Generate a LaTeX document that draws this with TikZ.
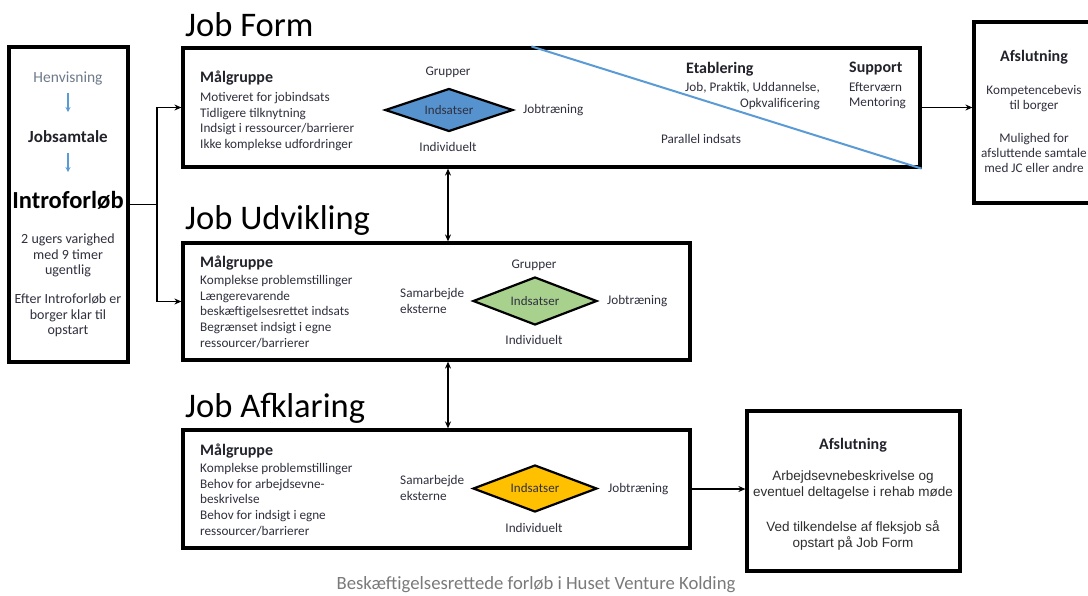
\documentclass[tikz,border=0pt]{standalone}
\usepackage{fontspec}
\setmainfont{Carlito}
\newfontfamily\arialf{Liberation Sans}
\usetikzlibrary{shapes.geometric,arrows.meta}
\definecolor{txt}{HTML}{30303F}
\definecolor{headc}{HTML}{22222B}
\definecolor{henvc}{HTML}{6E7A8A}
\definecolor{diablue}{HTML}{5592CE}
\definecolor{diagreen}{HTML}{A9D18E}
\definecolor{diayellow}{HTML}{FFC000}
\definecolor{lineblue}{HTML}{5B9BD5}
\definecolor{capc}{HTML}{7A7A7A}
\definecolor{arialc}{HTML}{2E2E2E}
\begin{document}
\begin{tikzpicture}[x=1pt,y=-1pt,
  box/.style={draw=black, line width=3.2pt, inner sep=0pt, fill=white},
  conn/.style={line width=1.6pt, -{Stealth[length=7pt,width=6pt]}},
  plainconn/.style={line width=1.6pt},
  dbl/.style={line width=1.6pt, {Stealth[length=7pt,width=6pt]}-{Stealth[length=7pt,width=6pt]}},
  bluearr/.style={draw=lineblue, line width=1.3pt, -{Stealth[length=5pt,width=5pt]}},
  dia/.style={diamond, draw=black, line width=2.2pt, aspect=2.7, inner sep=0pt, text=txt, font=\fontsize{13}{15}\selectfont},
  body/.style={inner sep=0pt, text=txt, font=\fontsize{13.2}{15.7}\selectfont, align=left, anchor=north west},
  head/.style={inner sep=0pt, text=headc, font=\bfseries\fontsize{16}{19}\selectfont},
  lab/.style={inner sep=0pt, text=txt, font=\fontsize{13.2}{15.7}\selectfont},
  ctr/.style={inner sep=0pt, text=txt, align=center, anchor=north},
  title/.style={inner sep=0pt, text=black, font=\fontsize{34.5}{40}\selectfont, anchor=base west}
]
\clip (0,0) rectangle (1088,595);
\fill[white] (0,0) rectangle (1088,595);

% boxes
\node[box, minimum width=119pt, minimum height=315pt] (lbox) at (68.5,204.5) {};
\node[box, minimum width=737pt, minimum height=119pt] (jf) at (551.5,107.5) {};
\node[box, minimum width=507pt, minimum height=117pt] (ju) at (436.5,301.5) {};
\node[box, minimum width=507pt, minimum height=118pt] (ja) at (436.5,489) {};
\node[box, minimum width=140pt, minimum height=181pt] (af1) at (1044,112.5) {};
\node[box, minimum width=213pt, minimum height=160pt] (af2) at (853.5,491) {};

% blue diagonal
\draw[lineblue, line width=2pt] (jf.north west) ++(350,0) -- (jf.south east);

% titles
\node[title] (t1) at (185,36) {Job Form};
\node[title] (t2) at (185,229) {Job Udvikling};
\node[title] (t3) at (185,417) {Job Afklaring};

% left box
\node[lab, text=henvc, font=\fontsize{15.5}{18}\selectfont] (henv) at (68,78) {Henvisning};
\node[lab, text=headc, font=\bfseries\fontsize{17}{18}\selectfont] (jobs) at (68,137) {Jobsamtale};
\node[lab, text=black, font=\bfseries\fontsize{24.5}{30}\selectfont] (intro) at (68,200) {Introforløb};
\node[ctr, font=\fontsize{14}{15.3}\selectfont] (ug) at (68,234) {2 ugers varighed\\med 9 timer\\ugentlig};
\node[ctr, font=\fontsize{14}{15.3}\selectfont] (ef) at (68,294) {Efter Introforløb er\\borger klar til\\opstart};
\draw[bluearr, shorten <=15pt, shorten >=25pt] (henv.center) -- (jobs.center);
\draw[bluearr, shorten <=16pt, shorten >=28pt] (jobs.center) -- (intro.center);

% Job Form content
\node[head, anchor=west] (mg1) at (200,78) {Målgruppe};
\node[body] (mg1t) at (200,92) {Motiveret for jobindsats\\Tidligere tilknytning\\Indsigt i ressourcer/barrierer\\Ikke komplekse udfordringer};
\node[dia, fill=diablue, minimum width=128pt, minimum height=43pt] (d1) at (449,110) {Indsatser};
\node[lab] (gr1) at (448,72) {Grupper};
\node[lab] (in1) at (448,147) {Individuelt};
\node[lab, anchor=west] (jt1) at (523,110) {Jobtræning};
\node[head, anchor=west] (et) at (686,69) {Etablering};
\node[body, anchor=north east, align=right] (ett) at (820,82) {Job, Praktik, Uddannelse,\\Opkvalificering};
\node[head, anchor=west] (sp) at (849,69) {Support};
\node[body] (spt) at (849,82) {Efterværn\\Mentoring};
\node[lab] (par) at (701,139) {Parallel indsats};

% Job Udvikling content
\node[head, anchor=west] (mg2) at (200,263) {Målgruppe};
\node[body] (mg2t) at (200,275) {Komplekse problemstillinger\\Længerevarende\\beskæftigelsesrettet indsats\\Begrænset indsigt i egne\\ressourcer/barrierer};
\node[dia, fill=diagreen, minimum width=124pt, minimum height=48pt] (d2) at (535,301) {Indsatser};
\node[lab] (gr2) at (534,265) {Grupper};
\node[lab] (in2) at (534,340) {Individuelt};
\node[body] (sa2) at (400,288) {Samarbejde\\eksterne};
\node[lab, anchor=west] (jt2) at (607,301) {Jobtræning};

% Job Afklaring content
\node[head, anchor=west] (mg3) at (200,451) {Målgruppe};
\node[body] (mg3t) at (200,463) {Komplekse problemstillinger\\Behov for arbejdsevne-\\beskrivelse\\Behov for indsigt i egne\\ressourcer/barrierer};
\node[dia, fill=diayellow, minimum width=124pt, minimum height=47pt] (d3) at (535,488.5) {Indsatser};
\node[body] (sa3) at (400,475) {Samarbejde\\eksterne};
\node[lab, anchor=west] (jt3) at (608,489) {Jobtræning};
\node[lab] (in3) at (534,528) {Individuelt};

% top Afslutning
\node[head] (afh1) at (1034,57) {Afslutning};
\node[ctr, font=\fontsize{13.2}{15.5}\selectfont] (af1a) at (1034,85) {Kompetencebevis\\til borger};
\node[ctr, font=\fontsize{13.2}{15.2}\selectfont] (af1b) at (1034,133) {Mulighed for\\afsluttende samtale\\med JC eller andre};

% bottom Afslutning
\node[head] (afh2) at (853,445) {Afslutning};
\node[ctr, text=arialc, font=\arialf\fontsize{13.5}{16}\selectfont] (af2a) at (853,471) {Arbejdsevnebeskrivelse og\\eventuel deltagelse i rehab møde};
\node[ctr, text=arialc, font=\arialf\fontsize{13.5}{16}\selectfont] (af2b) at (853,520) {Ved tilkendelse af fleksjob så\\opstart på Job Form};

% caption
\node[inner sep=0pt, text=capc, font=\fontsize{18.7}{20}\selectfont] (cap) at (536,585) {Beskæftigelsesrettede forløb i Huset Venture Kolding};

% connectors
\coordinate (split) at (157,0);
\coordinate (vx) at (448,0);
\draw[plainconn] (lbox.east) -- (lbox.east -| split);
\draw[conn] (lbox.east -| split) |- (jf.west);
\draw[conn] (lbox.east -| split) |- (ju.west);
\draw[conn] (jf.east) -- (jf.east -| af1.west);
\draw[conn] (ja.east) -- (ja.east -| af2.west);
\draw[dbl] (jf.south -| vx) -- (ju.north -| vx);
\draw[dbl] (ju.south -| vx) -- (ja.north -| vx);
\end{tikzpicture}
\end{document}
